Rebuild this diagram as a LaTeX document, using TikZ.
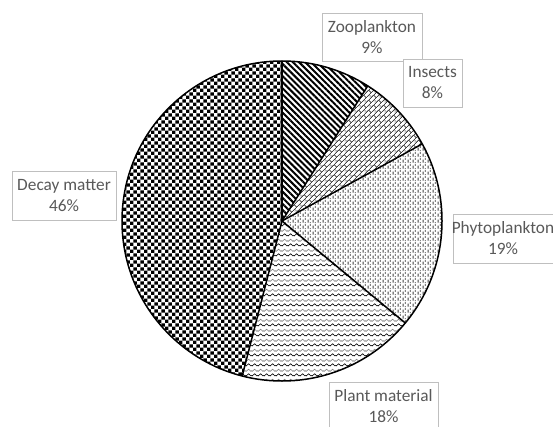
\documentclass[tikz,border=0pt]{standalone}
\usepackage{fontspec}
\setmainfont{Carlito}
\usetikzlibrary{patterns,patterns.meta}
\definecolor{txt}{HTML}{595959}
\definecolor{bord}{HTML}{BFBFBF}
\definecolor{pat}{HTML}{404040}

\tikzdeclarepattern{
  name=checker, type=colored,
  bounding box={(0pt,0pt) and (6.8pt,6.8pt)},
  tile size={(6.8pt,6.8pt)},
  code={\fill[black] (0pt,0pt) rectangle (3.4pt,3.4pt);
        \fill[black] (3.4pt,3.4pt) rectangle (6.8pt,6.8pt);}
}
\tikzdeclarepattern{
  name=dbrick, type=colored,
  bounding box={(0pt,0pt) and (7pt,7pt)},
  tile size={(7pt,7pt)},
  tile transformation={rotate=45},
  code={\draw[pat, line width=0.7pt]
        (0pt,0.5pt) -- (7pt,0.5pt) (0pt,4pt) -- (7pt,4pt)
        (1pt,0.5pt) -- (1pt,4pt) (4.5pt,4pt) -- (4.5pt,7pt) (4.5pt,0pt) -- (4.5pt,0.5pt);}
}
\tikzdeclarepattern{
  name=vdash, type=colored,
  bounding box={(0pt,0pt) and (4.7pt,6pt)},
  tile size={(4.7pt,6pt)},
  code={\draw[pat, line width=0.9pt]
        (1.175pt,0.5pt) -- (1.175pt,4pt)
        (3.525pt,3.5pt) -- (3.525pt,6pt) (3.525pt,0pt) -- (3.525pt,1pt);}
}
\tikzdeclarepattern{
  name=wave, type=colored,
  bounding box={(0pt,0pt) and (6pt,10pt)},
  tile size={(6pt,10pt)},
  code={\draw[black, line width=0.7pt] (0pt,1pt) -- (3pt,3.5pt) -- (6pt,1pt);
        \draw[gray, line width=0.7pt] (0pt,6pt) -- (3pt,8.5pt) -- (6pt,6pt);}
}

\tikzset{
  lbl/.style={draw=bord, fill=white, line width=0.8pt, text=txt,
    font=\fontsize{17.3}{21}\selectfont, align=center, inner sep=0pt},
  edge/.style={line width=1.5pt, line join=round}
}

\begin{document}
\begin{tikzpicture}[x=1pt,y=1pt]
\useasboundingbox (0,0) rectangle (553,426);
\clip (0,0) rectangle (553,426);
\fill[white] (0,0) rectangle (553,426);
\coordinate (c) at (282,205);
\def\R{160}
% slices
\fill[pattern={Lines[angle=-45,distance=4.3pt,line width=2pt]}, pattern color=black]
  (c) -- ++(90:\R) arc[start angle=90,end angle=57.6,radius=\R] -- cycle;
\fill[pattern=dbrick] (c) -- ++(57.6:\R) arc[start angle=57.6,end angle=28.8,radius=\R] -- cycle;
\fill[pattern=vdash] (c) -- ++(28.8:\R) arc[start angle=28.8,end angle=-39.6,radius=\R] -- cycle;
\fill[pattern=wave] (c) -- ++(-39.6:\R) arc[start angle=-39.6,end angle=-104.4,radius=\R] -- cycle;
\fill[pattern=checker] (c) -- ++(-104.4:\R) arc[start angle=-104.4,end angle=-270,radius=\R] -- cycle;
% outlines
\draw[edge] (c) -- ++(90:\R);
\draw[edge] (c) -- ++(57.6:\R);
\draw[edge] (c) -- ++(28.8:\R);
\draw[edge] (c) -- ++(-39.6:\R);
\draw[edge] (c) -- ++(-104.4:\R);
\draw[edge] (c) circle[radius=\R];
% labels
\node[lbl, minimum width=100, minimum height=48] (zoo) at (372,389) {Zooplankton\\9\%};
\node[lbl, minimum width=59, minimum height=48] (ins) at (432.5,343) {Insects\\8\%};
\node[lbl, minimum width=114, minimum height=49, text width=100] (phy) at (510,187.5) {};
\node[text=txt, font=\fontsize{17.3}{21}\selectfont, align=center, inner sep=0pt] (phyt) at (503,187.5) {Phytoplankton\\19\%};
\node[lbl, minimum width=109, minimum height=48] (pla) at (383.5,20) {Plant material\\18\%};
\node[lbl, minimum width=104, minimum height=49] (dec) at (64,230.5) {Decay matter\\46\%};
\end{tikzpicture}
\end{document}
